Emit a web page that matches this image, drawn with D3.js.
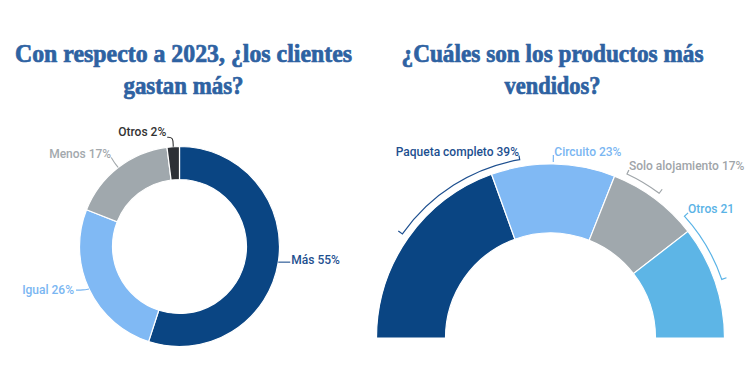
<!DOCTYPE html>
<html>
<head>
<meta charset="utf-8">
<script src="https://cdn.jsdelivr.net/npm/d3@7"></script>
<style>
  html, body { margin: 0; padding: 0; background: #fff; }
  svg { display: block; }
</style>
</head>
<body>
<svg id="chart" width="750" height="375"></svg>
<script>
// ---------- DATA ----------
const leftTitle = ["Con respecto a 2023, ¿los clientes", "gastan más?"];
const leftCategories = ["Más", "Igual", "Menos", "Otros"];
const leftValues = [55, 26, 17, 2];
const leftLabels = ["Más 55%", "Igual 26%", "Menos 17%", "Otros 2%"];

const rightTitle = ["¿Cuáles son los productos más", "vendidos?"];
const rightCategories = ["Paqueta completo", "Circuito", "Solo alojamiento", "Otros"];
const rightValues = [39, 23, 17, 21];
const rightLabels = ["Paqueta completo 39%", "Circuito 23%", "Solo alojamiento 17%", "Otros 21"];

// ---------- STYLE / LAYOUT ----------
const leftColors = ["#0a4583", "#80b9f4", "#a0a8ad", "#2d3035"];
const leftLabelColors = ["#1d4f8f", "#7ab6f2", "#a3a9ad", "#333333"];
const rightColors = ["#0a4583", "#80b9f4", "#a0a8ad", "#5db5e6"];
const rightLabelColors = ["#1d4f8f", "#7ab6f2", "#9fa5a9", "#5ab3e6"];
const titleColor = "#2e62a2";

const svg = d3.select("#chart");
const rad = Math.PI / 180;

function polar(cx, cy, r, a) { return [cx + r * Math.sin(a), cy - r * Math.cos(a)]; }

// ---------- TITLES ----------
function drawTitle(lines, cx, baselines, widths) {
  lines.forEach((t, i) => {
    svg.append("text")
      .attr("x", cx).attr("y", baselines[i])
      .attr("text-anchor", "middle")
      .attr("font-family", "'Liberation Serif', 'DejaVu Serif', serif")
      .attr("font-weight", "bold")
      .attr("font-size", 25)
      .attr("fill", titleColor)
      .attr("stroke", titleColor)
      .attr("stroke-width", 0.7)
      .attr("textLength", widths[i])
      .attr("lengthAdjust", "spacingAndGlyphs")
      .text(t);
  });
}
drawTitle(leftTitle, 183.5, [62, 94], [337, 120]);
drawTitle(rightTitle, 552.5, [62, 94], [302, 96]);

// ---------- LEFT DONUT ----------
const L = { cx: 179.5, cy: 246.5, r0: 67, r1: 100 };
const leftPie = d3.pie().sort(null).value(d => d)(leftValues);
const leftArc = d3.arc().innerRadius(L.r0).outerRadius(L.r1);
const gL = svg.append("g").attr("transform", `translate(${L.cx},${L.cy})`);
gL.selectAll("path.slice").data(leftPie).join("path")
  .attr("class", "slice")
  .attr("d", leftArc)
  .attr("fill", (d, i) => leftColors[i])
  .attr("stroke", "#fff").attr("stroke-width", 1.2);

// label layout: leader elbow and text anchor offsets relative to arc midpoint
const leftLabelLayout = [
  { elbow: [4, 0], text: [13, 2], anchor: "start", lineEnd: [12, 0] },
  { elbow: [-6, 1], text: [-15, 4.5], anchor: "end", lineEnd: [-13, 1] },
  { elbow: [-4, -5], text: [-7, -9], anchor: "end", lineEnd: [-7, -10] },
  { elbow: [0, -9.5], text: [-7, -10.5], anchor: "end", lineEnd: [-6, -9.5] }
];
leftPie.forEach((d, i) => {
  const mid = (d.startAngle + d.endAngle) / 2;
  const p = polar(L.cx, L.cy, L.r1, mid);
  const lay = leftLabelLayout[i];
  const pts = [p, [p[0] + lay.elbow[0], p[1] + lay.elbow[1]], [p[0] + lay.lineEnd[0], p[1] + lay.lineEnd[1]]];
  svg.append("path")
    .attr("d", d3.line().curve(d3.curveBasis)(pts))
    .attr("fill", "none").attr("stroke", leftLabelColors[i]).attr("stroke-width", 1.1);
  svg.append("text")
    .attr("x", p[0] + lay.text[0]).attr("y", p[1] + lay.text[1])
    .attr("text-anchor", lay.anchor)
    .attr("font-family", "Roboto, 'Noto Sans', sans-serif")
    .attr("font-weight", 500)
    .attr("font-size", 12)
    .attr("fill", leftLabelColors[i])
    .text(leftLabels[i]);
});

// ---------- RIGHT SEMI-DONUT ----------
const R = { cx: 550.5, cy: 338, r0: 105, r1: 174, rb: 181, rt: 186 };
const rightPie = d3.pie().sort(null).value(d => d)
  .startAngle(-Math.PI / 2).endAngle(Math.PI / 2)(rightValues);
const rightArc = d3.arc().innerRadius(R.r0).outerRadius(R.r1);
const gR = svg.append("g").attr("transform", `translate(${R.cx},${R.cy})`);
gR.selectAll("path.slice").data(rightPie).join("path")
  .attr("class", "slice")
  .attr("d", rightArc)
  .attr("fill", (d, i) => rightColors[i])
  .attr("stroke", "#fff").attr("stroke-width", 1.2);

// label layout: angle (deg) of label anchor along the ring, and text anchor
const rightLabelLayout = [
  { angle: -9.8, r: 185, anchor: "end" },
  { angle: 1.2, r: 182.5, anchor: "start" },
  { angle: 25.0, r: 185.5, anchor: "start" },
  { angle: 47.7, r: 186, anchor: "start" }
];
rightPie.forEach((d, i) => {
  const mid = (d.startAngle + d.endAngle) / 2;
  const lay = rightLabelLayout[i];
  const la = lay.angle * rad;
  const tp = polar(R.cx, R.cy, lay.r, la);
  let dpath;
  if (Math.abs(la - mid) < 3 * rad) {
    const q0 = polar(R.cx, R.cy, R.r1 + 2, mid);
    const q1 = polar(R.cx, R.cy, lay.r + 0.5, mid);
    dpath = `M${q0[0]},${q0[1]}L${q1[0]},${q1[1]}`;
  } else {
    const pLab = polar(R.cx, R.cy, R.rb, la);
    const pMid = polar(R.cx, R.cy, R.rb, mid);
    const tMid = polar(R.cx, R.cy, R.rt, mid);
    const sweep = mid > la ? 1 : 0;
    dpath = `M${tp[0]},${tp[1]}L${pLab[0]},${pLab[1]}` +
      `A${R.rb},${R.rb} 0 0 ${sweep} ${pMid[0]},${pMid[1]}` +
      `L${tMid[0]},${tMid[1]}`;
  }
  svg.append("path")
    .attr("d", dpath)
    .attr("fill", "none").attr("stroke", rightLabelColors[i]).attr("stroke-width", 1.2);
  svg.append("text")
    .attr("x", tp[0]).attr("y", tp[1])
    .attr("text-anchor", lay.anchor)
    .attr("font-family", "Roboto, 'Noto Sans', sans-serif")
    .attr("font-weight", 500)
    .attr("font-size", 12)
    .attr("fill", rightLabelColors[i])
    .text(rightLabels[i]);
});
</script>
</body>
</html>
